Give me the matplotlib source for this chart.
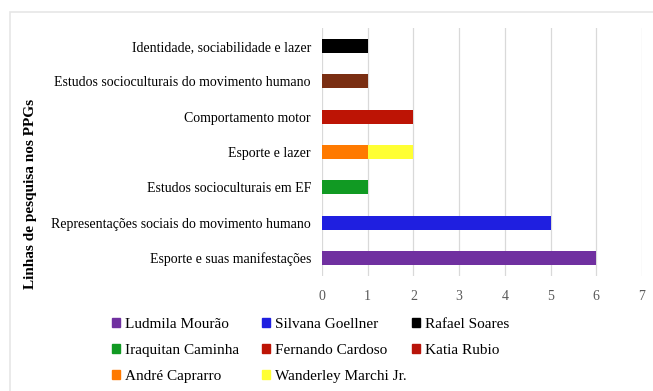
import matplotlib.pyplot as plt
from matplotlib.patches import Patch, Rectangle
import numpy as np

# linhas de pesquisa (de baixo para cima)
linhas = ['Esporte e suas manifestações',
          'Representações sociais do movimento humano',
          'Estudos socioculturais em EF',
          'Esporte e lazer',
          'Comportamento motor',
          'Estudos socioculturais do movimento humano',
          'Identidade, sociabilidade e lazer']

pesquisadores = ['Ludmila Mourão', 'Silvana Goellner', 'Rafael Soares',
                 'Iraquitan Caminha', 'Fernando Cardoso', 'Katia Rubio',
                 'André Caprarro', 'Wanderley Marchi Jr.']

ludmila = [6, 0, 0, 0, 0, 0, 0]
silvana = [0, 5, 0, 0, 0, 0, 0]
rafael = [0, 0, 0, 0, 0, 0, 1]
iraquitan = [0, 0, 1, 0, 0, 0, 0]
fernando = [0, 0, 0, 0, 2, 0, 0]
katia = [0, 0, 0, 0, 0, 1, 0]
andre = [0, 0, 0, 1, 0, 0, 0]
wanderley = [0, 0, 0, 1, 0, 0, 0]
series = [ludmila, silvana, rafael, iraquitan, fernando, katia, andre, wanderley]

cores_barra = ['#7030A0', '#1F1FE0', '#000000', '#119A23', '#BD1405',
               '#7A2E12', '#FF7A00', '#FFFF33']
cores_legenda = ['#7030A0', '#1F1FE0', '#000000', '#119A23', '#BD1405',
                 '#B8140A', '#FF7A00', '#FFFF33']

plt.rcParams['font.family'] = ['Liberation Serif', 'DejaVu Serif']

fig = plt.figure(figsize=(6.53, 3.91), dpi=100)
ax = fig.add_axes([0.4931, 0.2951, 0.4901, 0.6323])

y = np.arange(len(linhas))
base = np.zeros(len(linhas))
for vals, cor in zip(series, cores_barra):
    vals = np.array(vals, dtype=float)
    ax.barh(y, vals, left=base, height=0.4, color=cor, zorder=3)
    base += vals

ax.set_xlim(0, 7)
ax.set_ylim(-0.5, len(linhas) - 0.5)
ax.set_yticks(y)
ax.set_yticklabels(linhas, fontsize=10)
ax.set_xticks(range(8))
ax.tick_params(axis='x', colors='#595959', labelsize=10, length=0, pad=10)
ax.tick_params(axis='y', length=0, pad=8)
ax.xaxis.grid(True, color='#D9D9D9', linewidth=0.9, zorder=0)
for s in ax.spines.values():
    s.set_visible(False)

fig.text(0.047, 0.505, 'Linhas de pesquisa nos PPGs', rotation=90,
         ha='center', va='center', fontsize=11, fontweight='bold')

# legenda em três colunas, preenchida linha a linha
for col, x0 in enumerate([0.1715, 0.401, 0.631]):
    idx = list(range(col, len(pesquisadores), 3))
    leg = fig.legend([Patch(color=cores_legenda[i]) for i in idx],
                     [pesquisadores[i] for i in idx],
                     loc='upper left', bbox_to_anchor=(x0, 0.187),
                     frameon=False, fontsize=11, handlelength=0.55,
                     handleheight=0.55, handletextpad=0.3,
                     labelspacing=0.84, borderpad=0, borderaxespad=0)

# moldura clara em volta da figura
fig.patches.append(Rectangle((10 / 653, -0.05), 1.1, 1 - 12 / 391 + 0.05,
                             transform=fig.transFigure, fill=False,
                             edgecolor='#E6E6E6', linewidth=1.2))

fig.savefig('out.png', dpi=100)
